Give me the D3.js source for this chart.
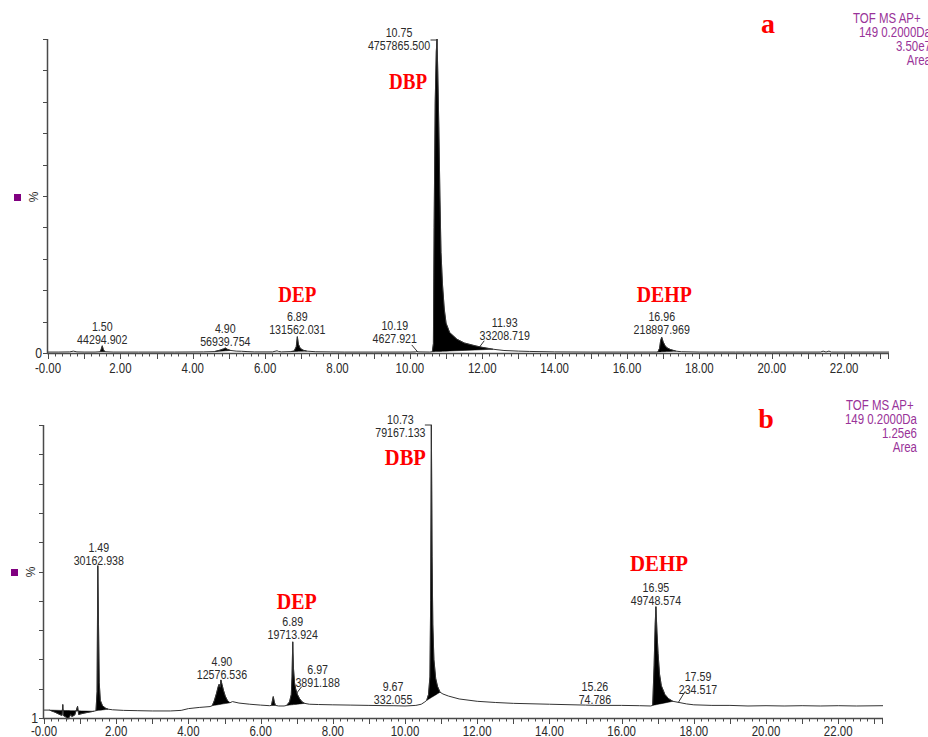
<!DOCTYPE html>
<html><head><meta charset="utf-8">
<script src="https://cdn.jsdelivr.net/npm/d3@7"></script>
<style>
body{margin:0;background:#fff;}
svg{display:block;}
</style></head><body>
<svg id="c" width="928" height="737"></svg>
<script>
// ---------------- DATA ----------------
const timeA = [0,0.3,0.6,0.7,0.8,1.0,1.3,1.44,1.47,1.50,1.53,1.58,1.8,2.5,3.5,4.3,4.6,4.75,4.85,4.9,4.95,5.05,5.2,5.35,5.5,5.7,6.2,6.33,6.37,6.45,6.7,6.8,6.86,6.89,6.92,6.97,7.05,7.15,7.4,7.8,8.2,9.0,10.0,10.15,10.19,10.25,10.55,10.62,10.65,10.67,10.70,10.73,10.75,10.77,10.80,10.83,10.86,10.9,10.95,11.0,11.1,11.3,11.5,11.8,12.0,12.3,12.6,13.0,13.3,14.0,15,16,16.85,16.9,16.93,16.96,17.0,17.05,17.1,17.2,17.35,17.5,18,19,20,21,21.35,21.42,21.5,21.58,21.65,22,23.24];
const intensityA = [0.3,0.3,0.35,0.6,0.35,0.3,0.3,0.4,1.2,2.3,1.0,0.4,0.3,0.3,0.3,0.35,0.45,0.9,1.3,1.6,1.2,0.8,0.6,0.55,0.45,0.35,0.35,0.7,0.5,0.35,0.45,0.6,2.0,5.2,2.8,1.5,0.9,0.6,0.4,0.35,0.3,0.3,0.3,0.35,0.5,0.35,0.3,0.4,3,40,80,96,100,90,72,50,32,22,14,9.5,6.5,4.4,3.2,2.3,1.8,1.2,0.8,0.6,0.5,0.35,0.3,0.3,0.3,1.5,4.0,5.0,3.5,2.4,1.7,1.1,0.6,0.4,0.3,0.3,0.3,0.3,0.3,0.6,0.3,0.6,0.3,0.3,0.3];

const timeB = [0,0.15,0.3,0.45,0.5,0.52,0.54,0.6,0.66,0.7,0.74,0.77,0.85,0.93,0.96,1.05,1.2,1.38,1.44,1.47,1.49,1.51,1.53,1.56,1.62,1.7,1.78,1.9,2.2,2.6,3.0,3.5,3.8,4.0,4.3,4.6,4.66,4.72,4.78,4.82,4.85,4.88,4.90,4.93,4.97,5.02,5.08,5.15,5.22,5.4,5.7,6.0,6.25,6.3,6.35,6.38,6.41,6.5,6.65,6.72,6.8,6.85,6.87,6.89,6.91,6.94,6.97,7.02,7.08,7.15,7.22,7.35,7.6,8.0,8.5,9.0,9.5,9.67,10.0,10.3,10.45,10.55,10.6,10.65,10.69,10.71,10.73,10.75,10.77,10.8,10.85,10.9,10.97,11.05,11.2,11.5,12.0,12.5,13.0,14.0,15.0,15.26,16.0,16.5,16.8,16.86,16.9,16.93,16.95,16.98,17.01,17.05,17.1,17.2,17.3,17.42,17.59,17.8,18.0,18.5,19.0,19.5,20.0,20.5,21.0,21.5,22.0,22.5,23.24];
const intensityB = [2.7,2.7,2.0,1.1,0.9,4.6,0.8,0.4,-0.4,0.3,1.2,0.5,1.0,4.0,1.2,1.5,1.9,2.3,2.5,9,52,32,12,6,4.2,3.4,3.0,2.8,2.6,2.5,2.4,2.4,2.6,3.2,3.6,3.9,4.2,6,8.5,10.5,11.5,10.5,13,11.5,9.5,7.5,6,5.2,5.6,5.1,4.7,4.4,4.2,4.3,7.3,5.5,4.3,4.1,4.1,4.3,5.5,8,14,26,17,12,10,8,6.6,5.5,5.0,4.7,4.6,4.5,4.4,4.3,4.2,4.2,4.1,4.3,4.7,5.5,6.0,8,14,40,100,55,32,20,13.5,10.8,8.8,8.2,7.5,6.5,5.7,5.3,5.0,4.7,4.4,4.3,4.3,4.2,4.1,4.3,18,32,38,29,22,15,11,8,6.6,5.7,5.3,4.8,4.5,4.3,4.3,4.1,4.2,4.1,4.2,4.1,4.2,4.1,4.2];

// integrated peak windows (filled black)
const integA = [[1.44,1.58],[4.6,5.05],[6.7,7.15],[10.62,12.3],[16.85,17.35]];
const integB = [[0.15,1.38],[1.44,1.78],[4.66,5.15],[6.3,6.41],[6.72,7.22],[10.6,10.97],[16.86,17.42]];

// peak annotations
const peakRT_A = [1.50, 4.90, 6.89, 10.19, 10.75, 11.93, 16.96];
const peakArea_A = ["44294.902","56939.754","131562.031","4627.921","4757865.500","33208.719","218897.969"];
const peakRT_B = [1.49, 4.90, 6.89, 6.97, 9.67, 10.73, 15.26, 16.95, 17.59];
const peakArea_B = ["30162.938","12576.536","19713.924","3891.188","332.055","79167.133","74.786","49748.574","234.517"];

const compounds = ["DEP","DBP","DEHP"];
const compoundRT_A = [6.89, 10.75, 16.96];
const compoundRT_B = [6.89, 10.73, 16.95];

const xTickValues = [0,2,4,6,8,10,12,14,16,18,20,22];
const headerA = ["TOF MS AP+","149 0.2000Da","3.50e7","Area"];
const headerB = ["TOF MS AP+","149 0.2000Da","1.25e6","Area"];
const panelLetters = ["a","b"];
const yMinLabels = ["0","1"];

// ---------------- LAYOUT ----------------
const panels = [
  {t: timeA, v: intensityA, integ: integA, rt: peakRT_A, area: peakArea_A, crt: compoundRT_A, header: headerA,
   x0: 48, x1: 889, yTop: 39, yBase: 353,
   labY: [326, 328, 316, 325, 32, 322, 316], labDx: [0, 0, 0, -22, -38, 25, 0],
   leaders: {3: [-5,-6.5,0.5,0], 5: [4.5,-6,0,0], 4: [-6.5,1,0,1]},
   cY: [302, 89, 302], cDx: [0, -29, 2.5], cLen: [38, 38, 55],
   letter: [768, 33], hdrLeft: 853, hdrRight: 931, hdrY: 23,
   sq: [14, 194], pct: [38, 197], zeroLab: [42, 358], tickLabY: 373},
  {t: timeB, v: intensityB, integ: integB, rt: peakRT_B, area: peakArea_B, crt: compoundRT_B, header: headerB,
   x0: 44, x1: 883, yTop: 425, yBase: 718,
   labY: [547, 661, 621, 669, 686, 419, 686, 587, 676], labDx: [1, 1, 0, 22, 0, -31, 0, 0, 19],
   leaders: {3: [6,-2,1,4.5], 8: [6,-11,-0.7,0], 5: [-6.5,0,0.5,0]},
   cY: [609, 465, 571], cDx: [4, -26, 3], cLen: [40, 41, 58],
   letter: [766, 428], hdrLeft: 846, hdrRight: 917, hdrY: 410,
   sq: [11, 569], pct: [35, 572], zeroLab: [38, 723], tickLabY: 736}
];

const svg = d3.select("#c");
const sans = "'Liberation Sans',Arial,sans-serif";
const serif = "'Liberation Serif','Times New Roman',serif";
const axisCol = "#4a4a4a", textCol = "#2a2a2a", purple = "#993399";
const SX = 0.82; // horizontal condensation of the instrument font

function ctext(g, x, y, str, size, anchor, fill) {
  return g.append("text")
    .attr("transform", `translate(${x},${y}) scale(${SX},1)`)
    .attr("text-anchor", anchor).attr("font-family", sans).attr("font-size", size)
    .attr("fill", fill).text(str);
}

panels.forEach((p, pi) => {
  const g = svg.append("g");
  const x = d3.scaleLinear().domain([0, 23.24]).range([p.x0, p.x1]);
  const y = d3.scaleLinear().domain([0, 100]).range([p.yBase, p.yTop]);
  const pts = p.t.map((t, i) => [t, p.v[i]]);
  const valAt = t => {
    const i = d3.bisector(d => d[0]).left(pts, t);
    if (i <= 0) return pts[0][1];
    if (i >= pts.length) return pts[pts.length-1][1];
    const a = pts[i-1], b = pts[i];
    if (b[0] === t) return b[1];
    return a[1] + (b[1]-a[1]) * (t - a[0]) / (b[0]-a[0]);
  };

  // filled integrated peaks
  p.integ.forEach(([s, e]) => {
    const vs = valAt(s), ve = valAt(e);
    const seg = pts.filter(d => d[0] >= s && d[0] <= e);
    const area = d3.area()
      .x(d => x(d[0]))
      .y0(d => y(vs + (ve - vs) * (d[0] - s) / (e - s)))
      .y1(d => y(d[1]));
    g.append("path").attr("d", area(seg)).attr("fill", "#000").attr("stroke", "#000").attr("stroke-width", 0.5);
  });

  // trace
  g.append("path").attr("d", d3.line().x(d => x(d[0])).y(d => y(d[1]))(pts))
    .attr("fill", "none").attr("stroke", "#333").attr("stroke-width", 1);

  // x axis
  g.append("line").attr("x1", p.x0 - 1).attr("x2", p.x1).attr("y1", p.yBase + 0.5).attr("y2", p.yBase + 0.5)
    .attr("stroke", axisCol).attr("stroke-width", 1.5);
  const minor = d3.range(0, 117).map(i => i * 0.2).filter(t => t <= 23.24);
  g.selectAll(".mt").data(minor).join("line")
    .attr("x1", d => Math.round(x(d)) + 0.5).attr("x2", d => Math.round(x(d)) + 0.5)
    .attr("y1", p.yBase).attr("y2", d => p.yBase + (Math.abs(d - Math.round(d)) < 1e-6 ? 6 : 3.5))
    .attr("stroke", axisCol).attr("stroke-width", 1);
  g.append("line").attr("x1", p.x1 - 0.5).attr("x2", p.x1 - 0.5).attr("y1", p.yBase).attr("y2", p.yBase + 6)
    .attr("stroke", axisCol);
  xTickValues.forEach(d => ctext(g, x(d), p.tickLabY, d === 0 ? "-0.00" : d.toFixed(2), 14, "middle", textCol));

  // y axis
  g.append("line").attr("x1", p.x0 - 0.5).attr("x2", p.x0 - 0.5).attr("y1", p.yTop).attr("y2", p.yBase + 1)
    .attr("stroke", axisCol).attr("stroke-width", 1.5);
  g.selectAll(".yt").data(d3.range(0, 101, 10)).join("line")
    .attr("x1", p.x0 - 5).attr("x2", p.x0).attr("y1", d => Math.round(y(d)) + 0.5).attr("y2", d => Math.round(y(d)) + 0.5)
    .attr("stroke", axisCol);
  ctext(g, p.zeroLab[0], p.zeroLab[1], yMinLabels[pi], 15, "end", textCol);
  g.append("text").attr("transform", `translate(${p.pct[0]},${p.pct[1]}) rotate(-90)`)
    .attr("text-anchor", "middle").attr("font-family", sans).attr("font-size", 12).attr("fill", textCol).text("%");
  g.append("rect").attr("x", p.sq[0]).attr("y", p.sq[1]).attr("width", 7).attr("height", 7).attr("fill", "#800080");

  // peak annotations
  p.rt.forEach((rt, i) => {
    const cx = x(rt) + p.labDx[i];
    const yy = p.labY[i];
    ctext(g, cx, yy + 4.5, rt.toFixed(2), 13, "middle", textCol);
    ctext(g, cx, yy + 17.5, p.area[i], 13, "middle", textCol);
    const ld = p.leaders[i];
    if (ld) {
      const px = x(rt), py = y(valAt(rt));
      g.append("line").attr("x1", px + ld[0]).attr("y1", py + ld[1]).attr("x2", px + ld[2]).attr("y2", py + ld[3])
        .attr("stroke", "#333").attr("stroke-width", 1);
    }
  });

  // compound names
  compounds.forEach((c, i) => {
    g.append("text").attr("x", x(p.crt[i]) + p.cDx[i]).attr("y", p.cY[i]).attr("text-anchor", "middle")
      .attr("font-family", serif).attr("font-weight", "bold").attr("font-size", 23).attr("fill", "#ff0000")
      .attr("textLength", p.cLen[i]).attr("lengthAdjust", "spacingAndGlyphs").text(c);
  });

  // panel letter
  g.append("text").attr("x", p.letter[0]).attr("y", p.letter[1]).attr("text-anchor", "middle")
    .attr("font-family", serif).attr("font-weight", "bold").attr("font-size", 28).attr("fill", "#ff0000")
    .text(panelLetters[pi]);

  // header
  p.header.forEach((h, i) => {
    const left = i === 0;
    ctext(g, left ? p.hdrLeft : p.hdrRight, p.hdrY + i * 14, h, 14, left ? "start" : "end", purple);
  });
});
</script>
</body></html>
